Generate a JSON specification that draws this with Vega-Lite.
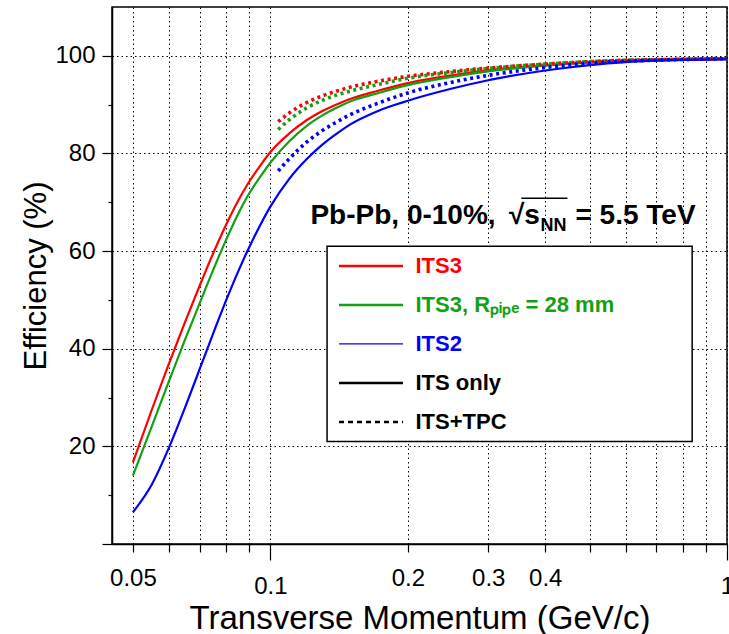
{
  "$schema": "https://vega.github.io/schema/vega-lite/v6.json",
  "width": 615,
  "height": 537,
  "autosize": {"type": "none"},
  "padding": {"left": 112, "top": 7, "right": 2, "bottom": 90},
  "background": "white",
  "config": {
    "font": "Liberation Sans",
    "view": {"stroke": "black", "strokeWidth": 1.5},
    "axis": {
      "domainColor": "black", "domainWidth": 1.5,
      "tickColor": "black", "tickWidth": 1.2,
      "labelColor": "black", "labelFontSize": 24, "labelFont": "Liberation Sans",
      "titleColor": "black", "titleFontSize": 31, "titleFontWeight": "normal", "titleFont": "Liberation Sans",
      "gridColor": "black", "gridDash": [1.5, 3], "gridWidth": 1
    }
  },
  "layer": [
    {
      "data": {"values": [
        {"x":0.05,"eff":16.7,"series":"ITS3","type":"ITS only"},
        {"x":0.055,"eff":27.5,"series":"ITS3","type":"ITS only"},
        {"x":0.06,"eff":37.0,"series":"ITS3","type":"ITS only"},
        {"x":0.065,"eff":45.4,"series":"ITS3","type":"ITS only"},
        {"x":0.07,"eff":52.9,"series":"ITS3","type":"ITS only"},
        {"x":0.075,"eff":59.6,"series":"ITS3","type":"ITS only"},
        {"x":0.08,"eff":65.4,"series":"ITS3","type":"ITS only"},
        {"x":0.085,"eff":70.3,"series":"ITS3","type":"ITS only"},
        {"x":0.09,"eff":74.3,"series":"ITS3","type":"ITS only"},
        {"x":0.095,"eff":77.5,"series":"ITS3","type":"ITS only"},
        {"x":0.1,"eff":80.3,"series":"ITS3","type":"ITS only"},
        {"x":0.11,"eff":84.1,"series":"ITS3","type":"ITS only"},
        {"x":0.12,"eff":86.8,"series":"ITS3","type":"ITS only"},
        {"x":0.13,"eff":88.7,"series":"ITS3","type":"ITS only"},
        {"x":0.14,"eff":90.1,"series":"ITS3","type":"ITS only"},
        {"x":0.15,"eff":91.2,"series":"ITS3","type":"ITS only"},
        {"x":0.17,"eff":92.7,"series":"ITS3","type":"ITS only"},
        {"x":0.2,"eff":94.4,"series":"ITS3","type":"ITS only"},
        {"x":0.25,"eff":96.0,"series":"ITS3","type":"ITS only"},
        {"x":0.3,"eff":97.0,"series":"ITS3","type":"ITS only"},
        {"x":0.4,"eff":98.1,"series":"ITS3","type":"ITS only"},
        {"x":0.5,"eff":98.7,"series":"ITS3","type":"ITS only"},
        {"x":0.6,"eff":99.0,"series":"ITS3","type":"ITS only"},
        {"x":0.7,"eff":99.2,"series":"ITS3","type":"ITS only"},
        {"x":0.8,"eff":99.3,"series":"ITS3","type":"ITS only"},
        {"x":1.0,"eff":99.4,"series":"ITS3","type":"ITS only"},

        {"x":0.05,"eff":14.0,"series":"ITS3, Rₚᵢₚₑ = 28 mm","type":"ITS only"},
        {"x":0.055,"eff":24.1,"series":"ITS3, Rₚᵢₚₑ = 28 mm","type":"ITS only"},
        {"x":0.06,"eff":33.4,"series":"ITS3, Rₚᵢₚₑ = 28 mm","type":"ITS only"},
        {"x":0.065,"eff":41.8,"series":"ITS3, Rₚᵢₚₑ = 28 mm","type":"ITS only"},
        {"x":0.07,"eff":49.3,"series":"ITS3, Rₚᵢₚₑ = 28 mm","type":"ITS only"},
        {"x":0.075,"eff":56.2,"series":"ITS3, Rₚᵢₚₑ = 28 mm","type":"ITS only"},
        {"x":0.08,"eff":62.3,"series":"ITS3, Rₚᵢₚₑ = 28 mm","type":"ITS only"},
        {"x":0.085,"eff":67.6,"series":"ITS3, Rₚᵢₚₑ = 28 mm","type":"ITS only"},
        {"x":0.09,"eff":71.9,"series":"ITS3, Rₚᵢₚₑ = 28 mm","type":"ITS only"},
        {"x":0.095,"eff":75.2,"series":"ITS3, Rₚᵢₚₑ = 28 mm","type":"ITS only"},
        {"x":0.1,"eff":78.1,"series":"ITS3, Rₚᵢₚₑ = 28 mm","type":"ITS only"},
        {"x":0.11,"eff":82.5,"series":"ITS3, Rₚᵢₚₑ = 28 mm","type":"ITS only"},
        {"x":0.12,"eff":85.6,"series":"ITS3, Rₚᵢₚₑ = 28 mm","type":"ITS only"},
        {"x":0.13,"eff":87.8,"series":"ITS3, Rₚᵢₚₑ = 28 mm","type":"ITS only"},
        {"x":0.14,"eff":89.4,"series":"ITS3, Rₚᵢₚₑ = 28 mm","type":"ITS only"},
        {"x":0.15,"eff":90.7,"series":"ITS3, Rₚᵢₚₑ = 28 mm","type":"ITS only"},
        {"x":0.17,"eff":92.2,"series":"ITS3, Rₚᵢₚₑ = 28 mm","type":"ITS only"},
        {"x":0.2,"eff":94.0,"series":"ITS3, Rₚᵢₚₑ = 28 mm","type":"ITS only"},
        {"x":0.25,"eff":95.7,"series":"ITS3, Rₚᵢₚₑ = 28 mm","type":"ITS only"},
        {"x":0.3,"eff":96.8,"series":"ITS3, Rₚᵢₚₑ = 28 mm","type":"ITS only"},
        {"x":0.4,"eff":98.0,"series":"ITS3, Rₚᵢₚₑ = 28 mm","type":"ITS only"},
        {"x":0.5,"eff":98.6,"series":"ITS3, Rₚᵢₚₑ = 28 mm","type":"ITS only"},
        {"x":0.6,"eff":98.95,"series":"ITS3, Rₚᵢₚₑ = 28 mm","type":"ITS only"},
        {"x":0.7,"eff":99.15,"series":"ITS3, Rₚᵢₚₑ = 28 mm","type":"ITS only"},
        {"x":0.8,"eff":99.25,"series":"ITS3, Rₚᵢₚₑ = 28 mm","type":"ITS only"},
        {"x":1.0,"eff":99.4,"series":"ITS3, Rₚᵢₚₑ = 28 mm","type":"ITS only"},

        {"x":0.104,"eff":86.5,"series":"ITS3","type":"ITS+TPC"},
        {"x":0.11,"eff":88.3,"series":"ITS3","type":"ITS+TPC"},
        {"x":0.12,"eff":90.4,"series":"ITS3","type":"ITS+TPC"},
        {"x":0.13,"eff":91.8,"series":"ITS3","type":"ITS+TPC"},
        {"x":0.14,"eff":92.8,"series":"ITS3","type":"ITS+TPC"},
        {"x":0.15,"eff":93.6,"series":"ITS3","type":"ITS+TPC"},
        {"x":0.17,"eff":94.7,"series":"ITS3","type":"ITS+TPC"},
        {"x":0.2,"eff":95.8,"series":"ITS3","type":"ITS+TPC"},
        {"x":0.25,"eff":96.8,"series":"ITS3","type":"ITS+TPC"},
        {"x":0.3,"eff":97.5,"series":"ITS3","type":"ITS+TPC"},
        {"x":0.4,"eff":98.3,"series":"ITS3","type":"ITS+TPC"},
        {"x":0.5,"eff":98.8,"series":"ITS3","type":"ITS+TPC"},
        {"x":0.6,"eff":99.1,"series":"ITS3","type":"ITS+TPC"},
        {"x":0.7,"eff":99.2,"series":"ITS3","type":"ITS+TPC"},
        {"x":0.8,"eff":99.3,"series":"ITS3","type":"ITS+TPC"},
        {"x":1.0,"eff":99.4,"series":"ITS3","type":"ITS+TPC"},

        {"x":0.104,"eff":84.9,"series":"ITS3, Rₚᵢₚₑ = 28 mm","type":"ITS+TPC"},
        {"x":0.11,"eff":86.9,"series":"ITS3, Rₚᵢₚₑ = 28 mm","type":"ITS+TPC"},
        {"x":0.12,"eff":89.3,"series":"ITS3, Rₚᵢₚₑ = 28 mm","type":"ITS+TPC"},
        {"x":0.13,"eff":90.9,"series":"ITS3, Rₚᵢₚₑ = 28 mm","type":"ITS+TPC"},
        {"x":0.14,"eff":92.0,"series":"ITS3, Rₚᵢₚₑ = 28 mm","type":"ITS+TPC"},
        {"x":0.15,"eff":92.8,"series":"ITS3, Rₚᵢₚₑ = 28 mm","type":"ITS+TPC"},
        {"x":0.17,"eff":94.0,"series":"ITS3, Rₚᵢₚₑ = 28 mm","type":"ITS+TPC"},
        {"x":0.2,"eff":95.4,"series":"ITS3, Rₚᵢₚₑ = 28 mm","type":"ITS+TPC"},
        {"x":0.25,"eff":96.6,"series":"ITS3, Rₚᵢₚₑ = 28 mm","type":"ITS+TPC"},
        {"x":0.3,"eff":97.4,"series":"ITS3, Rₚᵢₚₑ = 28 mm","type":"ITS+TPC"},
        {"x":0.4,"eff":98.3,"series":"ITS3, Rₚᵢₚₑ = 28 mm","type":"ITS+TPC"},
        {"x":0.5,"eff":98.8,"series":"ITS3, Rₚᵢₚₑ = 28 mm","type":"ITS+TPC"},
        {"x":0.6,"eff":99.1,"series":"ITS3, Rₚᵢₚₑ = 28 mm","type":"ITS+TPC"},
        {"x":0.7,"eff":99.2,"series":"ITS3, Rₚᵢₚₑ = 28 mm","type":"ITS+TPC"},
        {"x":0.8,"eff":99.3,"series":"ITS3, Rₚᵢₚₑ = 28 mm","type":"ITS+TPC"},
        {"x":1.0,"eff":99.4,"series":"ITS3, Rₚᵢₚₑ = 28 mm","type":"ITS+TPC"},

        {"x":0.05,"eff":6.5,"series":"ITS2","type":"ITS only"},
        {"x":0.055,"eff":12.2,"series":"ITS2","type":"ITS only"},
        {"x":0.06,"eff":19.8,"series":"ITS2","type":"ITS only"},
        {"x":0.065,"eff":27.9,"series":"ITS2","type":"ITS only"},
        {"x":0.07,"eff":35.8,"series":"ITS2","type":"ITS only"},
        {"x":0.075,"eff":43.2,"series":"ITS2","type":"ITS only"},
        {"x":0.08,"eff":49.9,"series":"ITS2","type":"ITS only"},
        {"x":0.085,"eff":55.8,"series":"ITS2","type":"ITS only"},
        {"x":0.09,"eff":60.9,"series":"ITS2","type":"ITS only"},
        {"x":0.095,"eff":65.3,"series":"ITS2","type":"ITS only"},
        {"x":0.1,"eff":69.1,"series":"ITS2","type":"ITS only"},
        {"x":0.11,"eff":74.8,"series":"ITS2","type":"ITS only"},
        {"x":0.12,"eff":78.8,"series":"ITS2","type":"ITS only"},
        {"x":0.13,"eff":81.8,"series":"ITS2","type":"ITS only"},
        {"x":0.14,"eff":84.1,"series":"ITS2","type":"ITS only"},
        {"x":0.15,"eff":86.0,"series":"ITS2","type":"ITS only"},
        {"x":0.17,"eff":88.5,"series":"ITS2","type":"ITS only"},
        {"x":0.2,"eff":90.8,"series":"ITS2","type":"ITS only"},
        {"x":0.25,"eff":93.3,"series":"ITS2","type":"ITS only"},
        {"x":0.3,"eff":95.0,"series":"ITS2","type":"ITS only"},
        {"x":0.4,"eff":97.0,"series":"ITS2","type":"ITS only"},
        {"x":0.5,"eff":98.1,"series":"ITS2","type":"ITS only"},
        {"x":0.6,"eff":98.7,"series":"ITS2","type":"ITS only"},
        {"x":0.7,"eff":99.0,"series":"ITS2","type":"ITS only"},
        {"x":0.8,"eff":99.15,"series":"ITS2","type":"ITS only"},
        {"x":1.0,"eff":99.3,"series":"ITS2","type":"ITS only"},

        {"x":0.104,"eff":76.4,"series":"ITS2","type":"ITS+TPC"},
        {"x":0.11,"eff":78.9,"series":"ITS2","type":"ITS+TPC"},
        {"x":0.12,"eff":82.3,"series":"ITS2","type":"ITS+TPC"},
        {"x":0.13,"eff":84.7,"series":"ITS2","type":"ITS+TPC"},
        {"x":0.14,"eff":86.5,"series":"ITS2","type":"ITS+TPC"},
        {"x":0.15,"eff":88.0,"series":"ITS2","type":"ITS+TPC"},
        {"x":0.17,"eff":90.1,"series":"ITS2","type":"ITS+TPC"},
        {"x":0.2,"eff":92.4,"series":"ITS2","type":"ITS+TPC"},
        {"x":0.25,"eff":94.6,"series":"ITS2","type":"ITS+TPC"},
        {"x":0.3,"eff":96.0,"series":"ITS2","type":"ITS+TPC"},
        {"x":0.4,"eff":97.6,"series":"ITS2","type":"ITS+TPC"},
        {"x":0.5,"eff":98.5,"series":"ITS2","type":"ITS+TPC"},
        {"x":0.6,"eff":98.9,"series":"ITS2","type":"ITS+TPC"},
        {"x":0.7,"eff":99.1,"series":"ITS2","type":"ITS+TPC"},
        {"x":0.8,"eff":99.25,"series":"ITS2","type":"ITS+TPC"},
        {"x":1.0,"eff":99.4,"series":"ITS2","type":"ITS+TPC"}
      ]},
      "mark": {"type": "line", "interpolate": "monotone"},
      "encoding": {
        "x": {
          "field": "x", "type": "quantitative",
          "scale": {"type": "log", "domain": [0.045, 1], "nice": false},
          "axis": {
            "values": [0.05,0.06,0.07,0.08,0.09,0.1,0.2,0.3,0.4,0.5,0.6,0.7,0.8,0.9,1],
            "labelExpr": "indexof([0.05,0.1,0.2,0.3,0.4,1], datum.value) >= 0 ? format(datum.value, '~g') : ''",
            "labelFlush": false,
            "labelOverlap": false,
            "labelPadding": 14,
            "grid": true,
            "tickSize": {"condition": {"test": "datum.value == 0.1 || datum.value == 1", "value": 16}, "value": 8},
            "title": "Transverse Momentum (GeV/c)",
            "titleFontSize": 33,
            "titleBaseline": "alphabetic",
            "titleY": 84
          }
        },
        "y": {
          "field": "eff", "type": "quantitative",
          "scale": {"domain": [0, 110], "nice": false, "zero": false},
          "axis": {
            "values": [0,5,10,15,20,25,30,35,40,45,50,55,60,65,70,75,80,85,90,95,100,105],
            "labelExpr": "datum.value % 20 === 0 && datum.value > 0 ? datum.label : ''",
            "labelOverlap": false,
            "labelPadding": 7,
            "grid": true,
            "gridOpacity": {"condition": {"test": "datum.value % 20 === 0 && datum.value > 0", "value": 1}, "value": 0},
            "tickSize": {"condition": {"test": "datum.value % 20 === 0", "value": 10}, "value": 4},
            "title": "Efficiency (%)",
            "titleBaseline": "alphabetic",
            "titleX": -67
          }
        },
        "color": {
          "field": "series", "type": "nominal",
          "scale": {
            "domain": ["ITS3", "ITS3, Rₚᵢₚₑ = 28 mm", "ITS2", "ITS only", "ITS+TPC"],
            "range": ["#ff0000", "#13a013", "#0000ff", "#000000", "#000000"]
          },
          "legend": {
            "orient": "none",
            "legendX": 215,
            "legendY": 239.7,
            "title": null,
            "padding": 0,
            "symbolType": "stroke",
            "symbolSize": 4096,
            "symbolOffset": 33,
            "labelOffset": 33.5,
            "clipHeight": 38.5,
            "rowPadding": 0,
            "labelFont": "Liberation Sans",
            "labelFontSize": 22,
            "labelFontWeight": "bold",
            "labelLimit": 400,
            "symbolStrokeWidth": 2.5,
            "encode": {
              "labels": {"update": {"fill": {"scale": "color", "field": "value"}}},
              "symbols": {"update": {
                "strokeDash": {"signal": "datum.value === 'ITS+TPC' ? [5, 4] : [100, 0]"},
                "strokeWidth": {"signal": "datum.value === 'ITS2' ? 1.3 : 2.5"}
              }}
            }
          }
        },
        "strokeDash": {
          "field": "type", "type": "nominal",
          "scale": {"domain": ["ITS only", "ITS+TPC"], "range": [[100, 0], [3, 3.6]]},
          "legend": null
        },
        "strokeWidth": {
          "field": "type", "type": "ordinal",
          "scale": {"domain": ["ITS only", "ITS+TPC"], "range": [2.2, 3.6]},
          "legend": null
        }
      }
    },
    {
      "data": {"values": [{}]},
      "mark": {"type": "rect", "fill": "white", "stroke": "black", "strokeWidth": 1.5},
      "encoding": {
        "x": {"datum": 0.1331, "type": "quantitative"},
        "x2": {"datum": 0.8389},
        "y": {"datum": 60.98, "type": "quantitative"},
        "y2": {"datum": 21.02}
      }
    },
    {
      "data": {"values": [{}]},
      "mark": {"type": "text", "text": "Pb-Pb, 0-10%,", "align": "left", "baseline": "alphabetic", "fontSize": 28, "fontWeight": "bold", "color": "black"},
      "encoding": {
        "x": {"datum": 0.1224, "type": "quantitative"},
        "y": {"datum": 65.58, "type": "quantitative"}
      }
    },
    {
      "data": {"values": [{}]},
      "mark": {"type": "text", "text": "√s", "align": "left", "baseline": "alphabetic", "fontSize": 28, "fontWeight": "bold", "color": "black"},
      "encoding": {
        "x": {"datum": 0.3330, "type": "quantitative"},
        "y": {"datum": 65.58, "type": "quantitative"}
      }
    },
    {
      "data": {"values": [{}]},
      "mark": {"type": "rule", "stroke": "black", "strokeWidth": 1.5},
      "encoding": {
        "x": {"datum": 0.3545, "type": "quantitative"},
        "x2": {"datum": 0.4473},
        "y": {"datum": 70.8, "type": "quantitative"}
      }
    },
    {
      "data": {"values": [{}]},
      "mark": {"type": "text", "text": "NN", "align": "left", "baseline": "alphabetic", "fontSize": 18, "fontWeight": "bold", "color": "black"},
      "encoding": {
        "x": {"datum": 0.3904, "type": "quantitative"},
        "y": {"datum": 64.1, "type": "quantitative"}
      }
    },
    {
      "data": {"values": [{}]},
      "mark": {"type": "text", "text": "= 5.5 TeV", "align": "left", "baseline": "alphabetic", "fontSize": 28, "fontWeight": "bold", "color": "black"},
      "encoding": {
        "x": {"datum": 0.4658, "type": "quantitative"},
        "y": {"datum": 65.58, "type": "quantitative"}
      }
    }
  ]
}
